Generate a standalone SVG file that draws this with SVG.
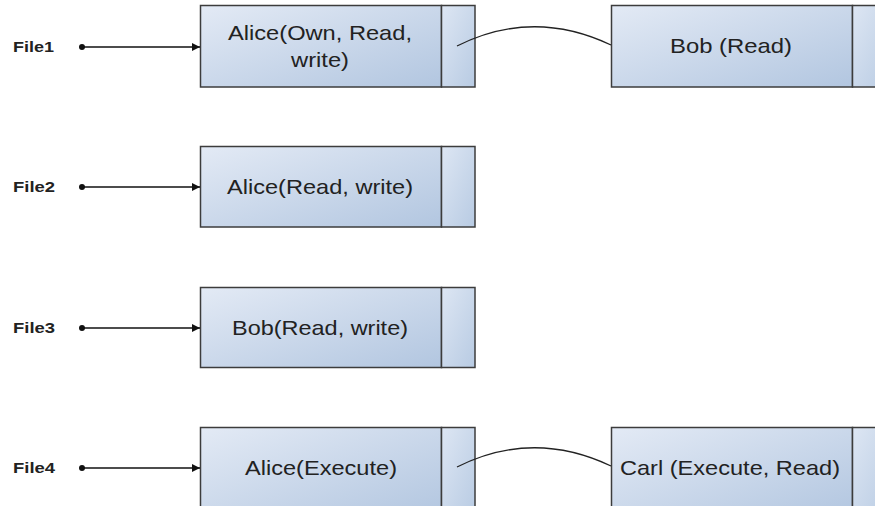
<svg xmlns="http://www.w3.org/2000/svg" width="875" height="506" viewBox="0 0 875 506">
  <defs>
    <linearGradient id="gMain" x1="0" y1="0" x2="1" y2="1">
      <stop offset="0" stop-color="#e3eaf5"/>
      <stop offset="1" stop-color="#b2c6e0"/>
    </linearGradient>
    <linearGradient id="gCell" x1="0" y1="0" x2="1" y2="1">
      <stop offset="0" stop-color="#dde6f3"/>
      <stop offset="1" stop-color="#b8cbe3"/>
    </linearGradient>
    <marker id="arrow" viewBox="0 0 10 10" refX="10" refY="5" markerWidth="10" markerHeight="8" markerUnits="userSpaceOnUse" orient="auto">
      <path d="M0,0 L10,5 L0,10 z" fill="#111"/>
    </marker>
  </defs>
  <style>
    .main { fill: url(#gMain); stroke: #3c3c3c; stroke-width: 1.5; }
    .cell { fill: url(#gCell); stroke: #3c3c3c; stroke-width: 1.5; }
    .lbl { font-family: "Liberation Sans", Arial, sans-serif; font-size: 21px; fill: #222; text-anchor: middle; }
    .file { font-family: "Liberation Sans", Arial, sans-serif; font-size: 15px; font-weight: bold; fill: #222; }
    .ptr { stroke: #111; stroke-width: 1.3; fill: none; }
    .link { stroke: #222; stroke-width: 1.3; fill: none; }
    .dot { fill: #111; }
  </style>
  <rect width="875" height="506" fill="#ffffff"/>

  <g id="labels">
    <text class="file" x="13" y="52" textLength="41" lengthAdjust="spacingAndGlyphs">File1</text>
    <text class="file" x="13" y="192" textLength="42" lengthAdjust="spacingAndGlyphs">File2</text>
    <text class="file" x="13" y="333" textLength="42" lengthAdjust="spacingAndGlyphs">File3</text>
    <text class="file" x="13" y="473" textLength="42" lengthAdjust="spacingAndGlyphs">File4</text>
  </g>

  <g id="node-alice1">
    <rect class="main" x="200.5" y="5.5" width="241" height="81.5"/>
    <rect class="cell" x="441.5" y="5.5" width="33.5" height="81.5"/>
    <text class="lbl" x="320" y="40" textLength="184" lengthAdjust="spacingAndGlyphs">Alice(Own, Read,</text>
    <text class="lbl" x="320" y="67" textLength="58" lengthAdjust="spacingAndGlyphs">write)</text>
  </g>
  <g id="node-bob1">
    <rect class="main" x="611.5" y="5.5" width="241" height="81.5"/>
    <rect class="cell" x="852.5" y="5.5" width="40" height="81.5"/>
    <text class="lbl" x="731" y="53" textLength="122" lengthAdjust="spacingAndGlyphs">Bob (Read)</text>
  </g>
  <g id="node-alice2">
    <rect class="main" x="200.5" y="146.5" width="241" height="80.5"/>
    <rect class="cell" x="441.5" y="146.5" width="33.5" height="80.5"/>
    <text class="lbl" x="320" y="194" textLength="186" lengthAdjust="spacingAndGlyphs">Alice(Read, write)</text>
  </g>
  <g id="node-bob3">
    <rect class="main" x="200.5" y="287.5" width="241" height="80"/>
    <rect class="cell" x="441.5" y="287.5" width="33.5" height="80"/>
    <text class="lbl" x="320" y="335" textLength="176" lengthAdjust="spacingAndGlyphs">Bob(Read, write)</text>
  </g>
  <g id="node-alice4">
    <rect class="main" x="200.5" y="427.5" width="241" height="90"/>
    <rect class="cell" x="441.5" y="427.5" width="33.5" height="90"/>
    <text class="lbl" x="321" y="475" textLength="152" lengthAdjust="spacingAndGlyphs">Alice(Execute)</text>
  </g>
  <g id="node-carl4">
    <rect class="main" x="611.5" y="427.5" width="241" height="90"/>
    <rect class="cell" x="852.5" y="427.5" width="40" height="90"/>
    <text class="lbl" x="730" y="475" textLength="220" lengthAdjust="spacingAndGlyphs">Carl (Execute, Read)</text>
  </g>

  <g id="connectors">
    <circle class="dot" cx="82" cy="47" r="3"/>
    <line class="ptr" x1="82" y1="47" x2="200" y2="47" marker-end="url(#arrow)"/>
    <circle class="dot" cx="82" cy="187" r="3"/>
    <line class="ptr" x1="82" y1="187" x2="200" y2="187" marker-end="url(#arrow)"/>
    <circle class="dot" cx="82" cy="328" r="3"/>
    <line class="ptr" x1="82" y1="328" x2="200" y2="328" marker-end="url(#arrow)"/>
    <circle class="dot" cx="82" cy="468" r="3"/>
    <line class="ptr" x1="82" y1="468" x2="200" y2="468" marker-end="url(#arrow)"/>
    <path class="link" d="M457,46 Q533,8 611,45"/>
    <path class="link" d="M457,467 Q533,429 611,466"/>
  </g>
</svg>
